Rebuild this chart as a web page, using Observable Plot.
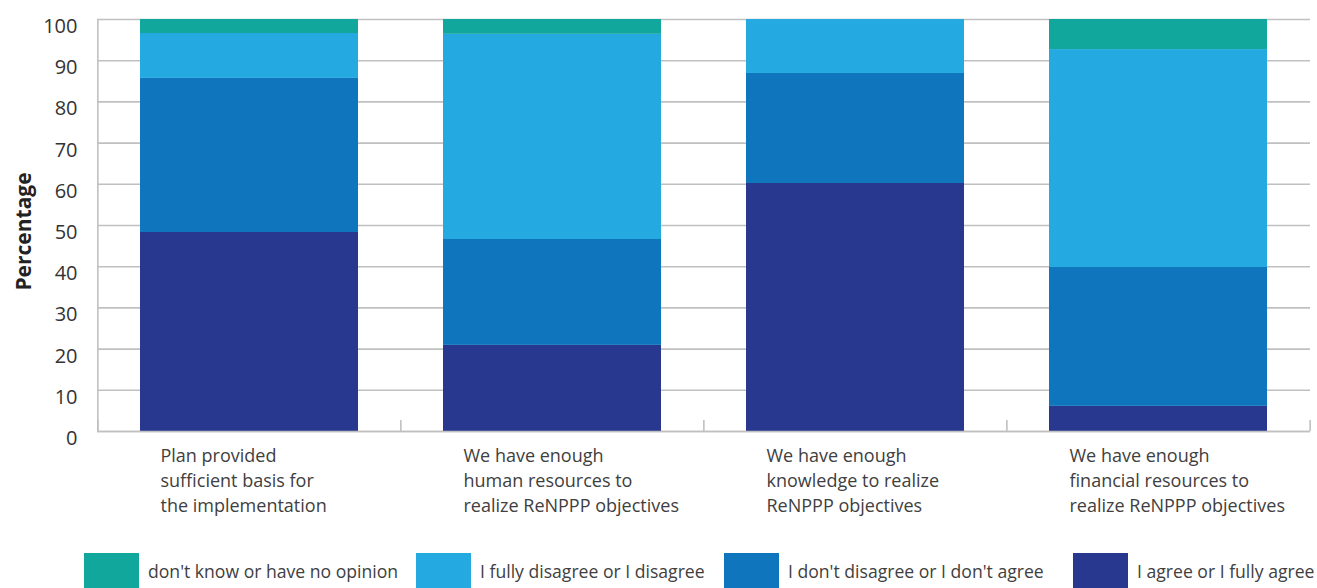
<!DOCTYPE html>
<html>
<head>
<meta charset="utf-8">
<script src="https://cdn.jsdelivr.net/npm/d3@7"></script>
<script src="https://cdn.jsdelivr.net/npm/@observablehq/plot@0.6"></script>
<style>
  html, body { margin: 0; padding: 0; background: #fff; }
  #chart { position: relative; width: 1317px; height: 588px; overflow: hidden; font-family: "Open Sans", sans-serif; }
  #legend { position: absolute; top: 553px; left: 0; width: 1317px; height: 35px; }
  .item { position: absolute; top: 0; height: 35px; display: flex; align-items: center; font-size: 17.6px; color: #404040; white-space: nowrap; }
  .item .sw { display: inline-block; width: 55px; height: 35px; margin-right: 9px; }
  .item:nth-child(1) { left: 84px; }
  .item:nth-child(2) { left: 416px; }
  .item:nth-child(3) { left: 724px; }
  .item:nth-child(4) { left: 1073px; }
</style>
</head>
<body>
<div id="chart"><div id="plot"></div><div id="legend"></div></div>
<script>
// ---- data ----
const categories = [
  "Plan provided\nsufficient basis for\nthe implementation",
  "We have enough\nhuman resources to\nrealize ReNPPP objectives",
  "We have enough\nknowledge to realize\nReNPPP objectives",
  "We have enough\nfinancial resources to\nrealize ReNPPP objectives"
];
const seriesNames = [
  "I agree or I fully agree",
  "I don't disagree or I don't agree",
  "I fully disagree or I disagree",
  "don't know or have no opinion"
];
const seriesColors = ["#28388f", "#0f75bc", "#24a9e1", "#12a79d"];
const agree    = [48.3, 20.9, 60.2, 6.1];
const neutral  = [37.4, 25.7, 26.7, 33.7];
const disagree = [10.9, 49.8, 13.1, 52.9];
const dontKnow = [3.4, 3.6, 0, 7.3];
const yTicks = [0, 10, 20, 30, 40, 50, 60, 70, 80, 90, 100];
const legendOrder = [
  "don't know or have no opinion",
  "I fully disagree or I disagree",
  "I don't disagree or I don't agree",
  "I agree or I fully agree"
];

// ---- build table ----
const seriesValues = [agree, neutral, disagree, dontKnow];
const rows = [];
categories.forEach((c, i) => {
  seriesNames.forEach((s, j) => rows.push({category: c, series: s, value: seriesValues[j][i]}));
});

const W = 1317, H = 540, mL = 97, mR = 7, mT = 19, mB = 109;
const step = (W - mL - mR) / categories.length;

const chart = Plot.plot({
  width: W, height: H,
  marginTop: mT, marginBottom: mB, marginLeft: mL, marginRight: mR,
  style: { fontFamily: "Open Sans, sans-serif", background: "white", overflow: "visible" },
  x: { domain: categories, paddingInner: 0.28, paddingOuter: 0.14, label: null },
  y: { domain: [0, 100], label: null },
  color: { domain: seriesNames, range: seriesColors },
  marks: [
    Plot.gridY(yTicks, { stroke: "#c0c0c0", strokeOpacity: 1, strokeWidth: 1.6 }),
    Plot.ruleX([categories[0]], { dx: -step / 2, y1: 0, y2: 100, stroke: "#c0c0c0", strokeWidth: 1.6 }),
    Plot.barY(rows, { x: "category", y: "value", fill: "series", order: seriesNames }),
    Plot.ruleY([0], { stroke: "#c0c0c0", strokeWidth: 1.6 }),
    Plot.ruleX(categories, { dx: -step / 2, y1: 0, y2: 2.7, stroke: "#c0c0c0", strokeWidth: 1.6 }),
    Plot.ruleX([categories[categories.length - 1]], { dx: step / 2, y1: 0, y2: 2.7, stroke: "#c0c0c0", strokeWidth: 1.6 }),
    Plot.axisY(yTicks, { tickSize: 0, tickPadding: 20, fontSize: 20, fill: "#333", dy: 7, label: null }),
    Plot.axisX({ tickSize: 0, tickPadding: 13, textAnchor: "start", dx: -89, fontSize: 18, lineHeight: 1.39, fill: "#404040", label: null }),
    Plot.text(["Percentage"], { frameAnchor: "left", textAnchor: "middle", rotate: -90, dx: -73, dy: 6, fontSize: 21, fontWeight: "bold", fill: "#222" })
  ]
});
document.getElementById("plot").appendChild(chart);

// ---- legend ----
const legend = d3.select("#legend");
legendOrder.forEach(name => {
  const it = legend.append("div").attr("class", "item");
  it.append("span").attr("class", "sw").style("background", seriesColors[seriesNames.indexOf(name)]);
  it.append("span").text(name);
});
</script>
</body>
</html>
